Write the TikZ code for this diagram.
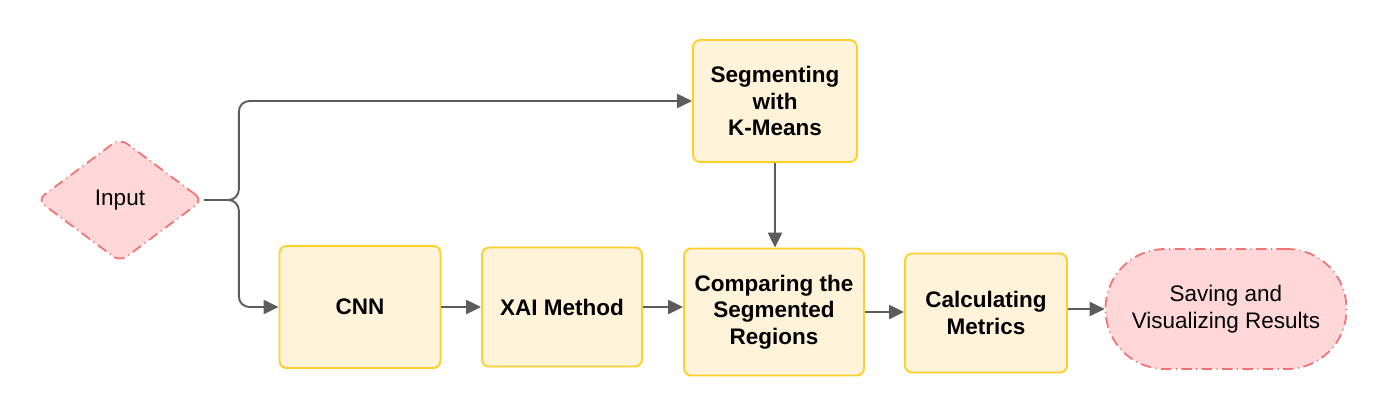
\documentclass[tikz,border=0pt]{standalone}
\usepackage{fontspec}
\setmainfont{Liberation Sans}
\usetikzlibrary{shapes.geometric,arrows.meta}
\definecolor{boxfill}{HTML}{FFF3D9}
\definecolor{boxline}{HTML}{FFD02B}
\definecolor{endfill}{HTML}{FFD7D8}
\definecolor{endline}{HTML}{F07373}
\definecolor{arrowgray}{HTML}{5C5C5C}

\begin{document}
\begin{tikzpicture}[x=0.02cm,y=-0.02cm,
	box/.style={rectangle,draw=boxline,fill=boxfill,line width=1.1pt,rounded corners=4pt,align=center,font=\fontsize{12.8}{15}\selectfont\bfseries,minimum width=3.24cm,minimum height=2.4cm},
	term/.style={draw=endline,fill=endfill,line width=1pt,dash pattern=on 6pt off 2.5pt on 0.6pt off 2.5pt,align=center,font=\fontsize{12.8}{15}\selectfont},
	flow/.style={draw=arrowgray,line width=1.1pt,-{Triangle[length=8.5pt,width=8pt]}}]
\useasboundingbox (0,0) rectangle (1387,417);
\node [diamond,term,minimum width=3.32cm,minimum height=2.48cm,rounded corners=5pt,inner sep=0pt] (a) at (120,200) {Input};
\node [box,minimum width=3.28cm,minimum height=2.44cm] (b) at (775,101) {Segmenting\\with\\K-Means};
\node [box,minimum width=3.22cm,minimum height=2.44cm] (c) at (360,307) {CNN};
\node [box,minimum width=3.2cm,minimum height=2.38cm] (d) at (562,307) {XAI Method};
\node [box,minimum width=3.6cm,minimum height=2.54cm] (e) at (774,312) {Comparing the\\Segmented\\Regions};
\node [box,minimum width=3.24cm,minimum height=2.38cm] (f) at (986,313) {Calculating\\Metrics};
\node [term,rectangle,rounded corners=1.19cm,minimum width=4.82cm,minimum height=2.4cm] (g) at (1226,309) {Saving and\\Visualizing Results};
\draw [flow,rounded corners=6pt] (a.east) -- ++(35,0) |- (b.west);
\draw [flow,rounded corners=6pt] (a.east) -- ++(35,0) |- (c.west);
\draw [flow] (b.south) -- (b.south |- e.north);
\draw [flow] (c.east) -- (d.west);
\draw [flow] (d.east) -- (d.east -| e.west);
\draw [flow] (e.east) -- (e.east -| f.west);
\draw [flow] (g.west -| f.east) -- (g.west);
\end{tikzpicture}
\end{document}
